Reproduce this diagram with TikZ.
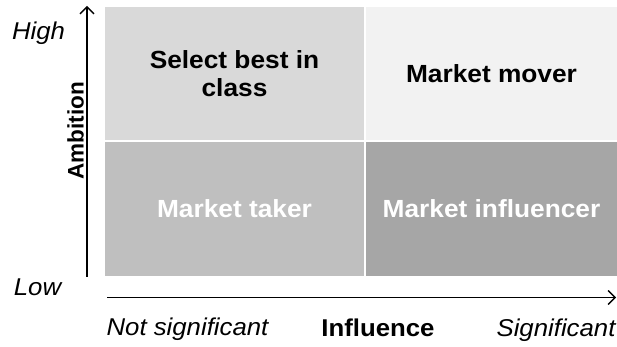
\documentclass[tikz,border=0pt]{standalone}
\usepackage{fontspec}
\setmainfont[FakeStretch=1.06]{Liberation Sans}
\newfontfamily\ambfont{Liberation Sans}
\usetikzlibrary{arrows.meta}
\definecolor{quadTL}{HTML}{D9D9D9}
\definecolor{quadTR}{HTML}{F2F2F2}
\definecolor{quadBL}{HTML}{BFBFBF}
\definecolor{quadBR}{HTML}{A6A6A6}
\tikzset{
  quad/.style={inner sep=0pt, minimum height=134pt, align=center,
    font=\fontsize{24.8}{27.5}\selectfont\bfseries},
  axislabel/.style={inner sep=0pt, anchor=base, font=\fontsize{24.3}{27}\selectfont\itshape},
  axisname/.style={inner sep=0pt, font=\fontsize{24.3}{27}\selectfont\bfseries},
}
\begin{document}
\begin{tikzpicture}[x=1pt, y=-1pt, >={Straight Barb[length=7pt,width=14pt]}]
	\useasboundingbox (0,0) rectangle (617,347);
	% quadrants
	\node[quad, fill=quadTL, minimum width=259pt, minimum height=133pt] (tl) at (234.5, 73.5) {Select best in\\class};
	\node[quad, fill=quadTR, minimum width=251pt, minimum height=133pt] (tr) at (491.5, 73.5) {Market mover};
	\node[quad, fill=quadBL, minimum width=259pt, text=white] (bl) at (234.5, 209) {Market taker};
	\node[quad, fill=quadBR, minimum width=251pt, text=white] (br) at (491.5, 209) {Market influencer};
	
	% axes
	\coordinate (yfoot) at (87, 276.5);
	\coordinate (ytip) at (87, 6);
	\coordinate (xfoot) at (107, 297.5);
	\coordinate (xtip) at (616, 297.5);
	\draw[->, line width=1.3pt] (yfoot) -- (ytip);
	\draw[->, line width=1.3pt] (xfoot) -- (xtip);
	
	\node[axislabel] (high) at (38.5, 39.3) {High};
	\node[axislabel] (low) at (37.5, 295) {Low};
	\node[axislabel] (notsig) at (187.5, 335.5) {Not significant};
	\node[axislabel] (sig) at (556, 336.7) {Significant};
	\node[axisname, anchor=base] (infl) at (378, 336.7) {Influence};
	\node[inner sep=0pt, rotate=90, font=\ambfont\fontsize{22.5}{25}\selectfont\bfseries] (amb) at (75.5, 131) {Ambition};
\end{tikzpicture}
\end{document}
